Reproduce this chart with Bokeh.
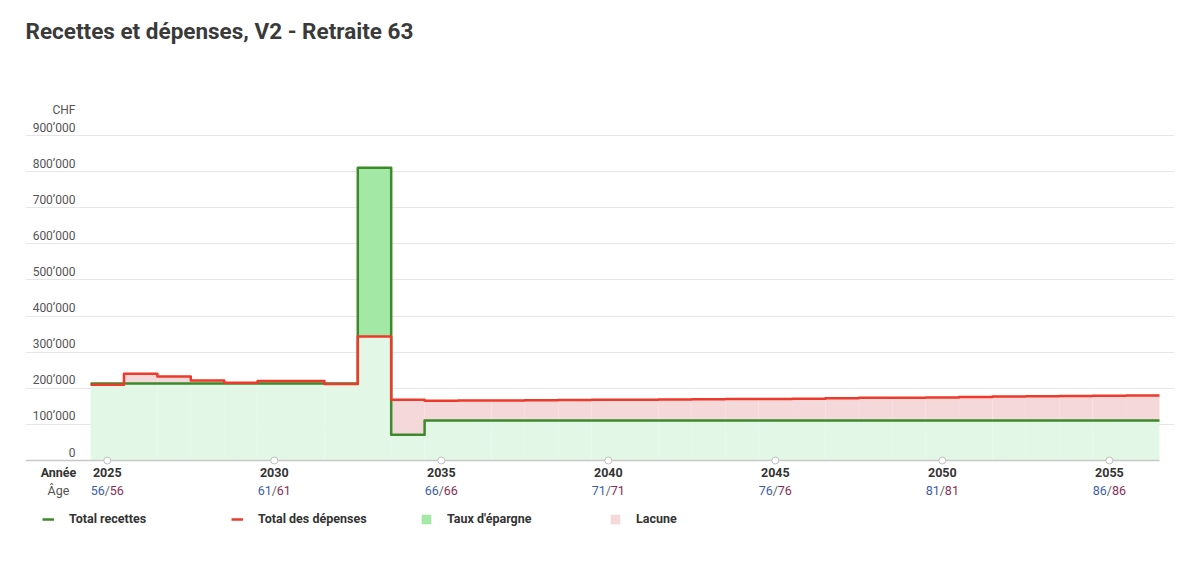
from bokeh.plotting import figure
from bokeh.models import Range1d, FixedTicker, Legend, LegendItem, ColumnDataSource
from bokeh.core.properties import value
from bokeh.embed import file_html
from bokeh.resources import INLINE

# ---------------- data ----------------
years = list(range(2025, 2057))
income = [213000, 213000, 213000, 213000, 213000, 213000, 213000, 213000,
          811000, 71000] + [111000] * 22
expenses = [210000, 240000, 232500, 221500, 215500, 220500, 220000, 212000,
            343500, 168000,
            165500, 166000, 166500, 167000, 167500, 168000, 168500, 169000,
            169500, 170000, 170500, 171000, 172500, 173500, 174000, 174500,
            176000, 177000, 178000, 178500, 179000, 180000]
tick_years = [2025, 2030, 2035, 2040, 2045, 2050, 2055]
age_a = [56, 61, 66, 71, 76, 81, 86]
age_b = [56, 61, 66, 71, 76, 81, 86]
y_ticks = [0, 100000, 200000, 300000, 400000, 500000, 600000, 700000, 800000, 900000]
y_labels = ["0", "100’000", "200’000", "300’000", "400’000", "500’000",
            "600’000", "700’000", "800’000", "900’000"]
title_text = "Recettes et dépenses, V2 - Retraite 63"
legend_labels = ["Total recettes", "Total des dépenses", "Taux d'épargne", "Lacune"]

# ---------------- geometry (pixels) ----------------
FONT = "Roboto"
FRAME_W = 1149
FRAME_TOP = 52      # frame top, px
FRAME_BOT = 545     # frame bottom, px
ZERO_PX = 460
TOP_PX = 135        # pixel of 900'000
scale = 900000 / (ZERO_PX - TOP_PX)
y_end = (ZERO_PX - FRAME_TOP) * scale
y_start = -(FRAME_BOT - ZERO_PX) * scale
PX_YEAR = 33.37
x_start = years[0] - 0.5 - 65.0 / PX_YEAR
x_end = years[-1] + 0.5 + 15.0 / PX_YEAR

p = figure(frame_width=FRAME_W, frame_height=FRAME_BOT - FRAME_TOP,
           x_range=Range1d(x_start, x_end), y_range=Range1d(y_start, y_end),
           output_backend="svg", toolbar_location=None,
           x_axis_location=None, y_axis_location=None,
           min_border_left=25, min_border_right=18, min_border_top=FRAME_TOP,
           min_border_bottom=2, background_fill_color="white",
           border_fill_color="white", outline_line_color=None,
           title=title_text)
p.title.text_font = FONT
p.title.text_font_size = "22.5px"
p.title.text_color = "#3a3a3a"
p.title.text_font_style = "bold"
p.title.align = "left"
p.title.offset = 0
p.title.standoff = 18

p.xgrid.visible = False
p.ygrid.ticker = FixedTicker(ticks=y_ticks[1:])
p.ygrid.grid_line_color = "#e6e6e6"
p.ygrid.grid_line_width = 1

# ---------------- fills ----------------
left = [y - 0.5 for y in years]
right = [y + 0.5 for y in years]
base = [min(i, e) for i, e in zip(income, expenses)]
top = [max(i, e) for i, e in zip(income, expenses)]
sav_top = [t if i > e else b for i, e, b, t in zip(income, expenses, base, top)]
gap_top = [t if e > i else b for i, e, b, t in zip(income, expenses, base, top)]

src = ColumnDataSource(dict(left=left, right=right, base=base, zero=[0] * len(years),
                            sav_top=sav_top, gap_top=gap_top))
p.quad(left="left", right="right", bottom="zero", top="base", source=src,
       fill_color="#e3f7e6", line_color=None)
r_sav = p.quad(left="left", right="right", bottom="base", top="sav_top", source=src,
               fill_color="#a3e9a5", line_color=None)
r_gap = p.quad(left="left", right="right", bottom="base", top="gap_top", source=src,
               fill_color="#f5d9da", line_color=None)

# axis line
p.segment(x0=[x_start], x1=[years[-1] + 0.5], y0=[0], y1=[0],
          line_color="#c8c8c8", line_width=1.5)

# step lines
edges = left + [right[-1]]
r_inc = p.step(edges, income + [income[-1]], mode="after", line_color="#3c8a2c",
               line_width=2.5, line_join="round")
r_exp = p.step(edges, expenses + [expenses[-1]], mode="after", line_color="#ee3a2a",
               line_width=2.5, line_join="round")

# tick circles
p.scatter(tick_years, [0] * len(tick_years), size=7, marker="circle",
          fill_color="white", line_color="#c0c0c0", line_width=1)

# y labels
p.text(x=[x_start] * len(y_ticks), y=y_ticks, text=y_labels, x_offset=50, y_offset=-8,
       text_align="right", text_baseline="middle", text_font=value(FONT),
       text_font_size="12px", text_color="#555555")
p.text(x=[x_start], y=[y_ticks[-1]], text=["CHF"], x_offset=50, y_offset=-26,
       text_align="right", text_baseline="middle", text_font=value(FONT),
       text_font_size="12px", text_color="#555555")

# x labels
p.text(x=tick_years, y=[0] * len(tick_years), text=[str(t) for t in tick_years],
       y_offset=12, text_align="center", text_baseline="middle",
       text_font=value(FONT), text_font_size="12.5px", text_font_style="bold",
       text_color="#333333")
p.text(x=[x_start], y=[0], text=["Année"], x_offset=33, y_offset=12,
       text_align="center", text_baseline="middle", text_font=value(FONT),
       text_font_size="12.5px", text_font_style="bold", text_color="#333333")
p.text(x=[x_start], y=[0], text=["Âge"], x_offset=33, y_offset=30,
       text_align="center", text_baseline="middle", text_font=value(FONT),
       text_font_size="12.5px", text_color="#555555")
p.text(x=tick_years, y=[0] * len(tick_years), text=["/"] * len(tick_years),
       y_offset=30, text_align="center", text_baseline="middle",
       text_font=value(FONT), text_font_size="12.5px", text_color="#666666")
p.text(x=tick_years, y=[0] * len(tick_years), text=[str(a) for a in age_a],
       x_offset=-2.5, y_offset=30, text_align="right", text_baseline="middle",
       text_font=value(FONT), text_font_size="12.5px", text_color="#3a5db0")
p.text(x=tick_years, y=[0] * len(tick_years), text=[str(a) for a in age_b],
       x_offset=2.5, y_offset=30, text_align="left", text_baseline="middle",
       text_font=value(FONT), text_font_size="12.5px", text_color="#8c2a55")

# legend (inside the frame, below the axis labels)
legend = Legend(items=[LegendItem(label=legend_labels[0], renderers=[r_inc]),
                       LegendItem(label=legend_labels[1], renderers=[r_exp]),
                       LegendItem(label=legend_labels[2], renderers=[r_sav]),
                       LegendItem(label=legend_labels[3], renderers=[r_gap])],
                orientation="horizontal", location=(17, 19),
                margin=0, padding=0, spacing=12, label_width=150,
                glyph_width=12, glyph_height=12, label_standoff=15,
                label_text_font=FONT, label_text_font_size="12.5px",
                label_text_font_style="bold", label_text_color="#333333",
                border_line_color=None, background_fill_alpha=0)
p.add_layout(legend, "center")

open("out.html", "w").write(file_html(p, INLINE))
